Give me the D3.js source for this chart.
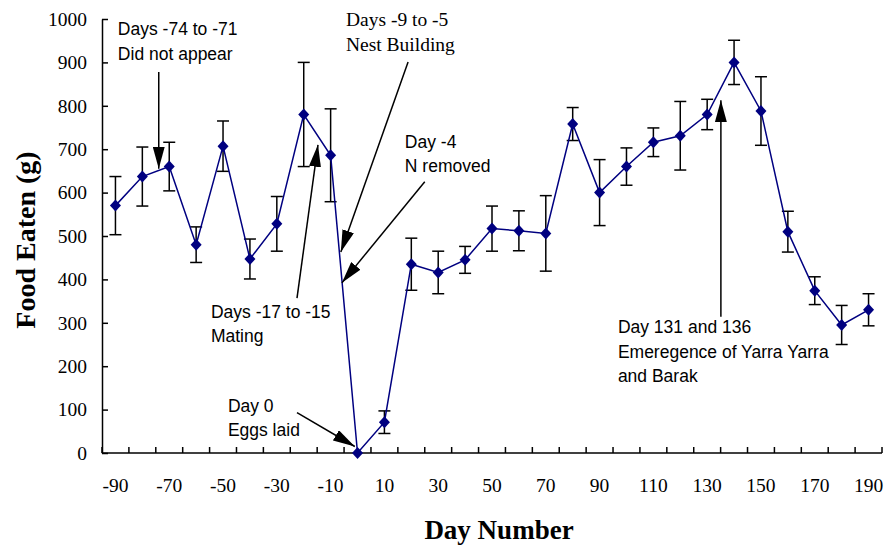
<!DOCTYPE html>
<html><head><meta charset="utf-8">
<script src="https://cdn.jsdelivr.net/npm/d3@7"></script>
<style>body{margin:0;background:#fff}</style>
</head><body>
<svg id="chart" width="886" height="547"></svg>
<script>
const days = [-90,-80,-70,-60,-50,-40,-30,-20,-10,0,10,20,30,40,50,60,70,80,90,100,110,120,130,140,150,160,170,180,190];
const food = [570,637,660,480,707,447,528,780,686,0,71,435,416,445,517,512,506,758,600,660,716,731,780,900,788,510,374,295,330];
const err  = [67,68,56,41,58,46,63,120,107,0,26,60,49,31,52,46,87,38,76,43,33,79,35,51,79,47,32,45,37];
const xTickLabels = [-90,-70,-50,-30,-10,10,30,50,70,90,110,130,150,170,190];
const yTicks = [0,100,200,300,400,500,600,700,800,900,1000];

// annotations: text lines, text anchor point (day, value), arrow from/to (day, value)
const annotations = [
  {lines:["Days -74 to -71","Did not appear"], font:"sans", at:[-89.1,962], from:[-73.9,878], to:[-73.9,655]},
  {lines:["Days -9 to -5","Nest Building"], font:"serif", at:[-4.3,983], from:[18.8,901], to:[-6.2,463]},
  {lines:["Day -4","N removed"], font:"sans", at:[17.6,703], from:[25,625], to:[-5.8,392]},
  {lines:["Days -17 to -15","Mating"], font:"sans", at:[-54.5,311], from:[-22.5,357], to:[-14.7,710]},
  {lines:["Day 0","Eggs laid"], font:"sans", at:[-48.2,95], from:[-22.5,93], to:[-1,15]},
  {lines:["Day 131 and 136","Emeregence of Yarra Yarra","and Barak"], font:"sans", at:[96.8,276], from:[135.1,314], to:[135.1,813]}
];

const svg = d3.select("#chart");
const mL = 102, mR = 882, mT = 19, mB = 453;
const x = d3.scaleBand().domain(days).range([mL, mR]).paddingInner(0).paddingOuter(0);
const y = d3.scaleLinear().domain([0,1000]).range([mB, mT]);
const step = x.step();
const xDay = d => x(days[0]) + step/2 + (d - days[0]) / 10 * step;

const navy = "#000080";
const sans = "'Liberation Sans', Arial, sans-serif";
const serif = "'Liberation Serif', 'Times New Roman', serif";

svg.append("defs").append("marker")
  .attr("id","ah").attr("viewBox","0 0 22 12").attr("refX",22).attr("refY",6)
  .attr("markerWidth",22).attr("markerHeight",12).attr("markerUnits","userSpaceOnUse")
  .attr("orient","auto")
  .append("path").attr("d","M0,0 L22,6 L0,12 Z").attr("fill","#000");

// Axes
const yAxis = d3.axisLeft(y).tickValues(yTicks).tickSizeInner(-6).tickSizeOuter(0).tickPadding(15).tickFormat(d3.format("d"));
const gy = svg.append("g").attr("transform",`translate(${mL},0)`).call(yAxis);
gy.select(".domain").attr("stroke","#000").attr("stroke-width",1.5);
gy.selectAll(".tick line").attr("stroke","#000").attr("stroke-width",1.5);
gy.selectAll(".tick text").attr("font-family",serif).attr("font-size","19.5px").attr("fill","#000");

// X axis baseline + ticks at band boundaries
const gx = svg.append("g");
gx.append("line").attr("x1",mL).attr("x2",mR).attr("y1",y(0)).attr("y2",y(0)).attr("stroke","#000").attr("stroke-width",1.5);
gx.selectAll("line.tk").data(days.concat(["end"])).enter().append("line").attr("class","tk")
  .attr("x1",(d,i)=> i<days.length ? x(d) : x(days[days.length-1])+step)
  .attr("x2",(d,i)=> i<days.length ? x(d) : x(days[days.length-1])+step)
  .attr("y1",y(0)).attr("y2",y(0)-6).attr("stroke","#000").attr("stroke-width",1.5);
gx.selectAll("text").data(xTickLabels).enter().append("text")
  .attr("x",d=>x(d)+step/2).attr("y",y(0)+39).attr("text-anchor","middle")
  .attr("font-family",serif).attr("font-size","19.5px").text(d=>d);

// Axis titles
svg.append("text").attr("transform",`translate(35,240) rotate(-90)`)
  .attr("text-anchor","middle").attr("font-family",serif).attr("font-weight","bold").attr("font-size","28px").text("Food Eaten (g)");
svg.append("text").attr("x",499).attr("y",539).attr("text-anchor","middle")
  .attr("font-family",serif).attr("font-weight","bold").attr("font-size","27px").text("Day Number");

// Error bars
const eb = svg.append("g");
days.forEach((d,i)=>{
  if (!err[i]) return;
  const cx = x(d)+step/2;
  eb.append("line").attr("x1",cx).attr("x2",cx).attr("y1",y(food[i]-err[i])).attr("y2",y(food[i]+err[i])).attr("stroke","#000").attr("stroke-width",1.5);
  [food[i]-err[i], food[i]+err[i]].forEach(v=>{
    eb.append("line").attr("x1",cx-6).attr("x2",cx+6).attr("y1",y(v)).attr("y2",y(v)).attr("stroke","#000").attr("stroke-width",1.5);
  });
});

// Line
const line = d3.line().x((d,i)=>x(days[i])+step/2).y(d=>y(d));
svg.append("path").datum(food).attr("d",line).attr("fill","none").attr("stroke",navy).attr("stroke-width",1.5);

// Markers (diamonds)
svg.append("g").selectAll("path").data(food).enter().append("path")
  .attr("transform",(d,i)=>`translate(${x(days[i])+step/2},${y(d)})`)
  .attr("d","M0,-6 L5.5,0 L0,6 L-5.5,0 Z")
  .attr("fill",navy);

// Annotations
const ag = svg.append("g");
annotations.forEach(a=>{
  ag.append("line").attr("x1",xDay(a.from[0])).attr("y1",y(a.from[1]))
    .attr("x2",xDay(a.to[0])).attr("y2",y(a.to[1]))
    .attr("stroke","#000").attr("stroke-width",1.5).attr("marker-end","url(#ah)");
  const isSerif = a.font==="serif";
  const t = ag.append("text").attr("font-family",isSerif?serif:sans).attr("font-size",isSerif?"19.5px":"17.5px").attr("fill","#000");
  a.lines.forEach((l,k)=>{
    t.append("tspan").attr("x",xDay(a.at[0])).attr("y",y(a.at[1]) + k*24.3).text(l);
  });
});
</script>
</body></html>
